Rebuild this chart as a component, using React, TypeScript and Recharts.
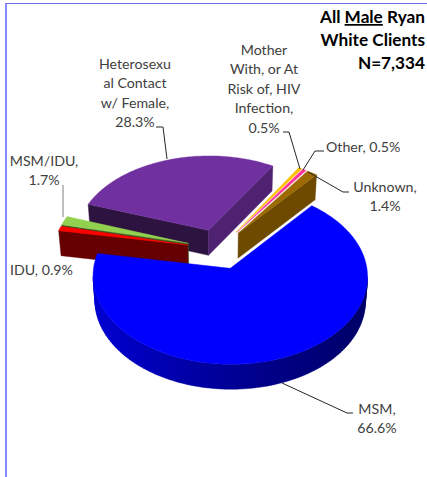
import { PieChart, Pie } from "recharts";

// listed counter-clockwise so the slices paint back to front
const categories = ["Unknown", "Other", "Mother", "Heterosexual", "MSM/IDU", "IDU", "MSM"];
const shares = [1.4, 0.5, 0.5, 28.3, 1.7, 0.9, 66.6];
const sliceColors = ["#9C6A00", "#FF3399", "#FFC000", "#7030A0", "#92D050", "#FF0000", "#0000FF"];
// thin slices whose cut wall is hidden behind the brown one
const hiddenWalls = ["Other", "Mother"];

const labelLines = [
  ["Unknown,", "1.4%"],
  ["Other, 0.5%"],
  ["Mother", "With, or At", "Risk of, HIV", "Infection,", "0.5%"],
  ["Heterosexu", "al Contact", "w/ Female,", "28.3%"],
  ["MSM/IDU,", "1.7%"],
  ["IDU, 0.9%"],
  ["MSM,", "66.6%"],
];
const titleLines = ["White Clients", "N=7,334"];

// label placement: x, first baseline, anchor, leader points
const labelLayout: { x: number; y: number; anchor: string; leader: number[][] }[] = [
  { x: 385, y: 192, anchor: "middle", leader: [[349, 192], [343, 192], [308, 172]] },
  { x: 326, y: 152, anchor: "start", leader: [[324, 151], [315, 151], [303, 170]] },
  { x: 264, y: 55, anchor: "middle", leader: [[283, 132], [289, 132], [300, 169]] },
  { x: 135, y: 69, anchor: "middle", leader: [[156, 127], [163, 127], [167, 159]] },
  { x: 44, y: 166, anchor: "middle", leader: [[63, 185], [63, 217]] },
  { x: 10, y: 275, anchor: "start", leader: [] },
  { x: 377, y: 414, anchor: "middle", leader: [[353, 413], [347, 413], [282, 383]] },
];

const TILT = 0.627;
const PERSPECTIVE = 0.087;
const EXPLODE = 0.24;
const THICKNESS = 25;
const RAD = Math.PI / 180;

const shade = (hex: string, k: number) => {
  const n = parseInt(hex.slice(1), 16);
  const c = [(n >> 16) & 255, (n >> 8) & 255, n & 255].map((v) => Math.round(v * k));
  return `rgb(${c[0]},${c[1]},${c[2]})`;
};

const toPath = (pts: number[][]) =>
  pts.map((p, i) => `${i ? "L" : "M"}${p[0].toFixed(2)} ${p[1].toFixed(2)}`).join("") + "Z";

// squashed, exploded slice with extruded front walls
const Slice3D = (props: any) => {
  const { cx, cy, outerRadius, startAngle, endAngle, index, fill, name } = props;
  const mid = ((startAngle + endAngle) / 2) * RAD;
  const ox = Math.cos(mid) * EXPLODE;
  const oy = Math.sin(mid) * EXPLODE;

  const project = (u: number, v: number, down: boolean) => {
    const s = 1 / (1 + PERSPECTIVE * v);
    return [
      cx + outerRadius * u * s * (down ? 0.985 : 1),
      cy - outerRadius * TILT * v * s + (down ? THICKNESS : 0),
    ];
  };

  // clockwise on screen: apex, then the arc from its highest angle down
  const rim: number[][] = [];
  const steps = Math.max(2, Math.ceil((endAngle - startAngle) / 1.5));
  for (let i = 0; i <= steps; i++) {
    const a = (endAngle + ((startAngle - endAngle) * i) / steps) * RAD;
    rim.push([ox + Math.cos(a), oy + Math.sin(a)]);
  }
  const outline = [[ox, oy], ...rim];
  const top = outline.map((p) => project(p[0], p[1], false));

  const walls: { d: string; fill: string }[] = [];
  let rimPath = "";
  if (!hiddenWalls.includes(name)) {
    outline.forEach((p, i) => {
      const q = outline[(i + 1) % outline.length];
      const a = project(p[0], p[1], false);
      const b = project(q[0], q[1], false);
      if (b[0] - a[0] >= 0) return;
      const quad = toPath([a, b, project(q[0], q[1], true), project(p[0], p[1], true)]);
      const radial = i === 0 || i === outline.length - 1;
      if (radial) {
        const steep = Math.abs(b[1] - a[1]) > Math.abs(b[0] - a[0]) * 0.6;
        walls.push({ d: quad, fill: shade(fill, steep ? 0.7 : 0.4) });
      } else {
        rimPath += quad;
      }
    });
  }

  const gradId = `rim-${index}`;
  return (
    <g>
      <defs>
        <linearGradient id={gradId} gradientUnits="userSpaceOnUse" x1={cx - 125} x2={cx + 150} y1={0} y2={0}>
          <stop offset="0" stopColor={shade(fill, 0.82)} />
          <stop offset="0.5" stopColor={shade(fill, 0.58)} />
          <stop offset="1" stopColor={shade(fill, 0.4)} />
        </linearGradient>
      </defs>
      {walls.map((w, i) => (
        <path key={i} d={w.d} fill={w.fill} stroke={w.fill} strokeWidth={0.4} />
      ))}
      {rimPath && <path d={rimPath} fill={`url(#${gradId})`} stroke={`url(#${gradId})`} strokeWidth={0.4} />}
      <path d={toPath(top)} fill={fill} stroke={fill} strokeWidth={0.4} />
    </g>
  );
};

const SliceLabel = (props: any) => {
  const spot = labelLayout[props.index];
  const lines = labelLines[props.index];
  return (
    <g>
      {spot.leader.length > 0 && (
        <polyline
          points={spot.leader.map((p) => p.join(",")).join(" ")}
          fill="none"
          stroke={props.index === 4 ? "#7F7F7F" : "#262626"}
          strokeWidth={1}
        />
      )}
      <text fontFamily="Lato" fontSize={14.2} fill="#404040" textAnchor={spot.anchor}>
        {lines.map((line, i) => (
          <tspan key={i} x={spot.x} y={spot.y + i * 19.4}>
            {line}
          </tspan>
        ))}
      </text>
    </g>
  );
};

const data = categories.map((name, i) => ({ name, value: shares[i], fill: sliceColors[i] }));

export default function App() {
  return (
    <div style={{ position: "absolute", left: 0, top: 0, width: 427, height: 477, overflow: "hidden", background: "#fff" }}>
      <div
        style={{
          position: "absolute",
          left: 5,
          top: 3,
          right: 0,
          bottom: 0,
          borderLeft: "2px solid #8A8AFF",
          borderTop: "1px solid #6E6EF0",
        }}
      />
      <PieChart width={427} height={477} margin={{ top: 0, right: 0, bottom: 0, left: 0 }} style={{ position: "absolute" }}>
        <Pie
          data={data}
          dataKey="value"
          nameKey="name"
          cx={219}
          cy={249}
          innerRadius={0}
          outerRadius={134}
          startAngle={50}
          endAngle={410}
          stroke="none"
          isAnimationActive={false}
          shape={Slice3D}
          label={SliceLabel}
          labelLine={false}
        />
        <text fontFamily="Lato" fontSize={17.2} fontWeight={700} fill="#000" textAnchor="end">
          <tspan x={425} y={23}>
            All <tspan textDecoration="underline">Male</tspan> Ryan
          </tspan>
          {titleLines.map((line, i) => (
            <tspan key={line} x={425} y={46 + i * 23}>
              {line}
            </tspan>
          ))}
        </text>
      </PieChart>
    </div>
  );
}
